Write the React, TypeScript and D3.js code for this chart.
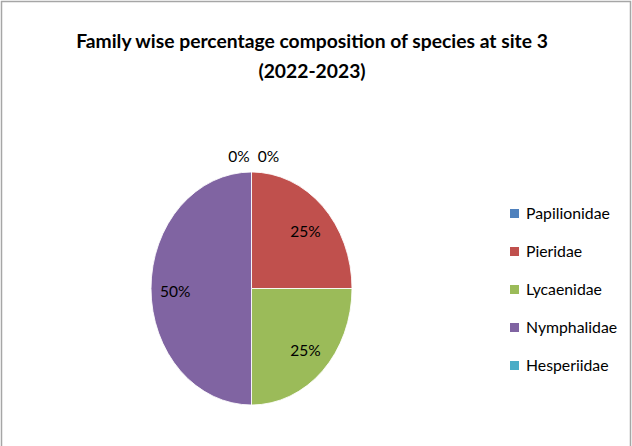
import * as d3 from 'd3'
import React, { useRef, useEffect } from 'react'

const families = ['Papilionidae', 'Pieridae', 'Lycaenidae', 'Nymphalidae', 'Hesperiidae']
const percents = [0, 25, 25, 50, 0]
const colors = ['#4f81bd', '#c0504d', '#9bbb59', '#8064a2', '#4bacc6']
const titleLines = ['Family wise percentage composition of species at site 3', '(2022-2023)']

const W = 632
const H = 446
const FONT = 'Lato, "Open Sans", sans-serif'

export default function App() {
  const svgRef = useRef(null)

  function renderPie() {
    const svg = d3.select(svgRef.current)
    svg.selectAll('*').remove()
    svg.attr('width', W).attr('height', H)

    svg.append('rect')
      .attr('x', 1.5).attr('y', 1.5)
      .attr('width', W - 3).attr('height', H + 10)
      .attr('fill', '#fff').attr('stroke', '#a6a6a6').attr('stroke-width', 1.5)

    svg.selectAll('text.title')
      .data(titleLines)
      .join('text')
      .attr('class', 'title')
      .attr('x', 312)
      .attr('y', (d, i) => 48 + i * 30)
      .attr('text-anchor', 'middle')
      .attr('font-family', FONT)
      .attr('font-weight', 'bold')
      .attr('font-size', '19.3px')
      .attr('fill', '#000')
      .text((d) => d)

    const cx = 251.5
    const cy = 288.5
    const rx = 100.5
    const ry = 116.5

    const data = families.map((name, i) => ({ name, value: percents[i], color: colors[i] }))
    const pie = d3.pie<any>().sort(null).value((d) => d.value)
    const arcs = pie(data)
    const arc = d3.arc<any>().innerRadius(0).outerRadius(rx)

    const g = svg.append('g').attr('transform', `translate(${cx},${cy}) scale(1,${ry / rx})`)
    g.selectAll('path')
      .data(arcs.filter((d) => d.value > 0))
      .join('path')
      .attr('d', arc)
      .attr('fill', (d) => d.data.color)
      .attr('stroke', '#fff')
      .attr('stroke-width', 0.8)

    // labels inside slices; zero slices get outside labels above the top
    const labelArc = d3.arc<any>().innerRadius(rx * 0.76).outerRadius(rx * 0.76)
    svg.selectAll('text.lbl')
      .data(arcs)
      .join('text')
      .attr('class', 'lbl')
      .attr('font-family', FONT)
      .attr('font-size', '15.5px')
      .attr('fill', '#000')
      .attr('text-anchor', 'middle')
      .attr('x', (d) => {
        if (d.value === 0) return cx + (d.index === 0 ? -12.5 : 17)
        return cx + labelArc.centroid(d)[0]
      })
      .attr('y', (d) => {
        if (d.value === 0) return cy - ry - 10
        return cy + labelArc.centroid(d)[1] * (ry / rx) * 0.95 + 8
      })
      .text((d) => `${d.data.value}%`)

    const legend = svg.append('g').attr('transform', 'translate(510,209)')
    const items = legend.selectAll('g')
      .data(data)
      .join('g')
      .attr('transform', (d, i) => `translate(0,${i * 38})`)
    items.append('rect')
      .attr('width', 9).attr('height', 9)
      .attr('fill', (d) => d.color)
    items.append('text')
      .attr('x', 16).attr('y', 10)
      .attr('font-family', FONT)
      .attr('font-size', '15.8px')
      .attr('fill', '#000')
      .text((d) => d.name)
  }

  useEffect(() => {
    renderPie()
  }, [])

  return (
    <div style={{ position: 'absolute', left: 0, top: 0 }}>
      <svg ref={svgRef} style={{ display: 'block' }} />
    </div>
  )
}
